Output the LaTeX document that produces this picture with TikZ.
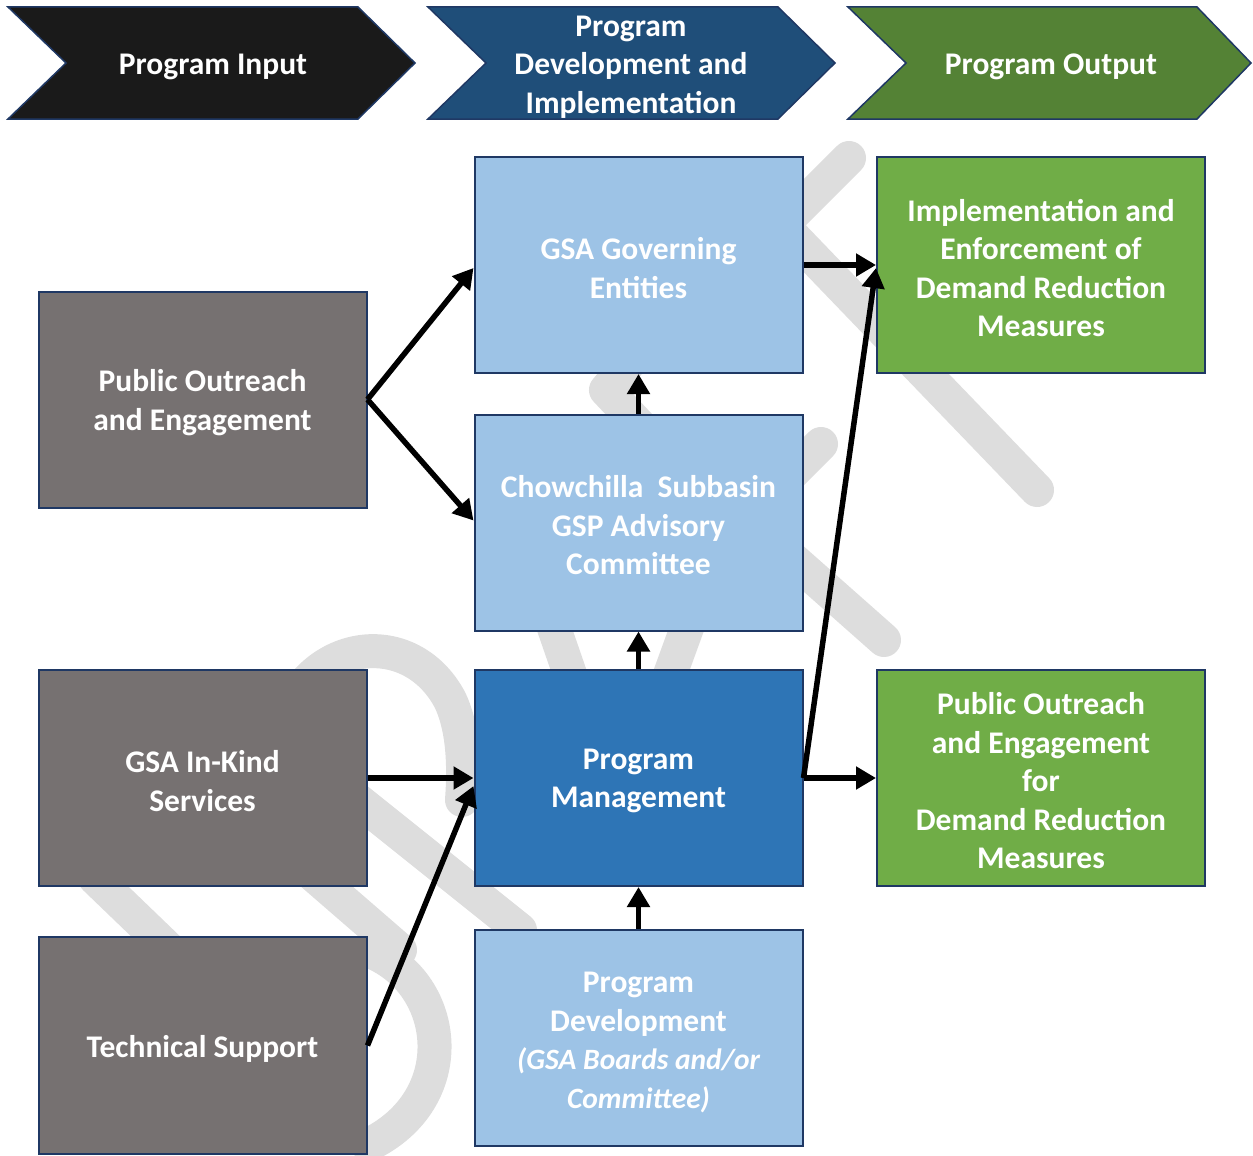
\documentclass[tikz,border=0pt]{standalone}
\usepackage{fontspec}
\setmainfont{Carlito}
\usetikzlibrary{arrows.meta,calc}
\definecolor{navy}{HTML}{1F3864}
\definecolor{chevk}{HTML}{1A1A1A}
\definecolor{chevb}{HTML}{1F4E79}
\definecolor{chevg}{HTML}{548235}
\definecolor{boxgray}{HTML}{767171}
\definecolor{lblue}{HTML}{9DC3E6}
\definecolor{mblue}{HTML}{2E75B6}
\definecolor{bgreen}{HTML}{70AD47}
\definecolor{wmgray}{HTML}{DDDDDD}
\newcommand{\itline}[1]{{\fontsize{29.5}{36}\selectfont\bfseries\itshape #1}}
\tikzset{
  txt/.style={text=white, align=center, inner sep=0pt, yshift=-3pt, font=\fontsize{31.5}{38.5}\selectfont\bfseries},
  box/.style={draw=navy, line width=2pt, minimum width=328pt, minimum height=216pt, inner sep=0pt},
  graybox/.style={box, fill=boxgray},
  lightbox/.style={box, fill=lblue},
  darkbox/.style={box, fill=mblue},
  greenbox/.style={box, fill=bgreen},
  chev/.style={draw=navy, line width=1.5pt, line join=miter},
  arr/.style={line width=5.5pt, -{Triangle[length=20pt,width=22pt]}},
  wm/.style={draw=wmgray, line width=34pt, line cap=round, line join=round},
}
\begin{document}
\begin{tikzpicture}[x=1pt,y=-1pt]
\useasboundingbox (0,0) rectangle (1253,1156);

% watermark (DRAFT outline, visible parts)
\draw[wm] (849,158) -- (782,225) -- (1037,490);
\draw[wm] (650,338) -- (606,390) -- (655,442);
\draw[wm] (780,485) -- (821,444);
\draw[wm] (780,548) -- (884,640);
\draw[wm] (553,625) -- (572,680);
\draw[wm] (688,625) -- (668,680);
\draw[wm] (285,720) .. controls (310,640) and (410,625) .. (450,700) .. controls (462,725) and (465,760) .. (462,800);
\draw[wm] (345,790) -- (520,930);
\draw[wm] (95,878) -- (175,955);
\draw[wm] (310,872) -- (400,950);
\draw[wm] (372,952) .. controls (450,985) and (462,1100) .. (368,1145);

% header chevrons
\filldraw[chev, fill=chevk] (8,7) -- (358,7) -- (415,63) -- (358,119) -- (8,119) -- (66,63) -- cycle;
\filldraw[chev, fill=chevb] (428,7) -- (778,7) -- (835,63) -- (778,119) -- (428,119) -- (486,63) -- cycle;
\filldraw[chev, fill=chevg] (848,7) -- (1197,7) -- (1251,63) -- (1197,119) -- (848,119) -- (906,63) -- cycle;
\node[txt] (h1) at (213,64) {Program Input};
\node[txt] (h2) at (631,64) {Program\\Development and\\Implementation};
\node[txt] (h3) at (1051,64) {Program Output};

% boxes
\node[graybox] (poe) at (202.5,399.5) {};
\node[graybox] (ink) at (202.5,778) {};
\node[graybox, minimum height=217pt] (tech) at (202.5,1045.5) {};
\node[lightbox] (gov) at (638.5,265) {};
\node[lightbox] (chow) at (638.5,522.5) {};
\node[darkbox] (pm) at (638.5,778) {};
\node[lightbox] (pd) at (638.5,1037.5) {};
\node[greenbox] (impl) at (1041,265) {};
\node[greenbox] (pout) at (1041,778) {};

% box texts
\node[txt] (poe-t) at (poe) {Public Outreach\\and Engagement};
\node[txt] (ink-t) at (ink) {GSA In-Kind\\Services};
\node[txt] (tech-t) at (tech) {Technical Support};
\node[txt] (gov-t) at (gov) {GSA Governing\\Entities};
\node[txt] (chow-t) at (chow) {Chowchilla\ \ Subbasin\\GSP Advisory\\Committee};
\node[txt] (pm-t) at (pm) {Program\\Management};
\node[txt, yshift=-2pt] (pd-t) at (pd) {Program\\Development\\\itline{(GSA Boards and/or}\\\itline{Committee)}};
\node[txt] (impl-t) at (impl) {Implementation and\\Enforcement of\\Demand Reduction\\Measures};
\node[txt] (pout-t) at (pout) {Public Outreach\\and Engagement\\for\\Demand Reduction\\Measures};

% connectors
\draw[arr] (poe.east) -- ($(gov.west)+(0,3)$);
\draw[arr] (poe.east) -- ($(chow.west)+(0,-2)$);
\draw[arr] (chow.north) -- (gov.south);
\draw[arr] (pm.north) -- (chow.south);
\draw[arr] (pd.north) -- (pm.south);
\draw[arr] (ink.east) -- (pm.west);
\draw[arr] (tech.east) -- ($(pm.west)+(0,8)$);
\draw[arr] (gov.east) -- (impl.west);
\draw[arr] (pm.east) -- ($(impl.west)+(0,3)$);
\draw[arr] (pm.east) -- (pout.west);
\end{tikzpicture}
\end{document}
